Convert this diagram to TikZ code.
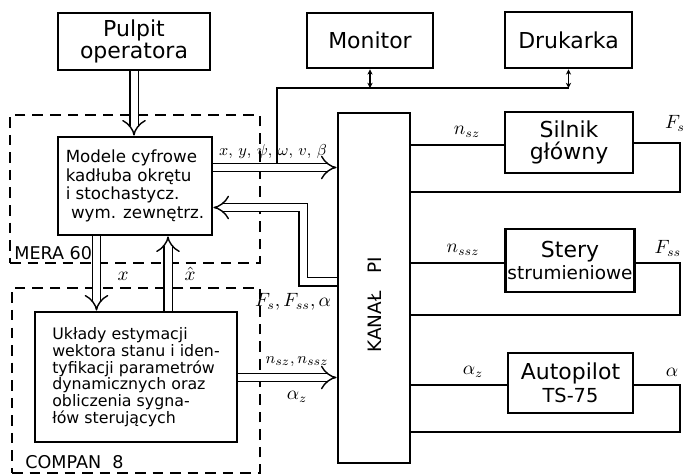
\documentclass[tikz,border=0pt]{standalone}
\usepackage{fontspec}
\setmainfont{DejaVu Sans}
\usetikzlibrary{arrows.meta, positioning}

\tikzset{
  blok/.style={draw, line width=1.6pt, align=center, inner sep=1pt, font=\fontsize{12.5}{13}\selectfont},
  pole/.style={draw, line width=0.9pt, dash pattern=on 6pt off 4pt},
  dbl/.style={double, line width=0.8pt, double distance=0.14cm, -{Implies}},
  lin/.style={line width=1pt},
  opis/.style={inner sep=1pt, font=\fontsize{10.5}{11}\selectfont},
}

\begin{document}
\begin{tikzpicture}[x=0.02cm, y=-0.02cm]
  \useasboundingbox (0,0) rectangle (687,476);
  \coordinate (bus) at (277,88);
  \coordinate (busstart) at (277,163.5);
  \coordinate (y1) at (0,167.5);
  \coordinate (y2) at (0,207.5);
  \coordinate (y3) at (0,282);
  \coordinate (y4) at (0,377.5);
  \coordinate (xr) at (303,0);
  \coordinate (xa) at (96.5,0);
  \coordinate (xb) at (168,0);
  \coordinate (xe) at (680,0);
  \coordinate (ya) at (0,145);
  \coordinate (yb) at (0,143);
  \coordinate (yc) at (0,192);
  \coordinate (yd) at (0,263);
  \coordinate (ye) at (0,315);
  \coordinate (yf) at (0,385);
  \coordinate (yg) at (0,432);
  \node[pole, minimum width=5cm, minimum height=2.96cm] (mera) at (135,189) {};
  \node[pole, minimum width=4.96cm, minimum height=3.7cm] (compan) at (136,380.5) {};
  \node[blok, minimum width=3.04cm, minimum height=1.14cm] (pulpit) at (134,41.5) {Pulpit\\operatora};
  \node[blok, minimum width=2.52cm, minimum height=1.1cm] (monitor) at (370,40.5) {Monitor};
  \node[blok, minimum width=2.54cm, minimum height=1.12cm] (drukarka) at (568.5,40) {Drukarka};
  \node[blok, minimum width=3.08cm, minimum height=1.96cm, align=left, font=\fontsize{9.5}{10.5}\selectfont] (modele) at (135,186) {Modele cyfrowe\\kadłuba okrętu\\i stochastycz.\\\ wym. zewnętrz.};
  \node[blok, minimum width=4.04cm, minimum height=2.6cm, align=left, font=\fontsize{9}{9.5}\selectfont] (uklady) at (136,377) {Układy estymacji\\wektora stanu i iden-\\tyfikacji parametrów\\dynamicznych oraz\\obliczenia sygna-\\łów sterujących};
  \node[blok, minimum width=1.44cm, minimum height=7cm] (kanal) at (374,288) {};
  \node[rotate=90, font=\fontsize{10.5}{11}\selectfont] (kanaltxt) at (375,305) {KANAŁ\ \ \ PI};
  \node[blok, minimum width=2.56cm, minimum height=1.22cm] (silnik) at (569,142.5) {Silnik\\główny};
  \node[blok, minimum width=2.52cm, minimum height=1.26cm] (stery) at (570,260.5) {Stery\\{\fontsize{10.5}{11}\selectfont strumieniowe}};
  \node[blok, minimum width=2.5cm, minimum height=1.2cm] (autopilot) at (570.5,383) {Autopilot\\{\fontsize{11}{11}\selectfont TS-75}};
  \node[opis, anchor=south west, font=\fontsize{10}{11}\selectfont] (meratxt) at ([xshift=0.06cm,yshift=0.04cm]mera.south west) {MERA 60};
  \node[opis, anchor=south west, font=\fontsize{10}{11}\selectfont] (compantxt) at ([xshift=0.24cm,yshift=0.06cm]compan.south west) {COMPAN\ \ 8};
  \draw[dbl] (pulpit.south) -- (pulpit.south |- modele.north);
  \draw[dbl] (modele.east |- y1) -- (kanal.west |- y1);
  \draw[dbl] (kanal.west |- y3) -| (xr |- y2) -- (modele.east |- y2);
  \draw[dbl] (modele.south -| xa) -- (uklady.north -| xa);
  \draw[dbl] (uklady.north -| xb) -- (modele.south -| xb);
  \draw[dbl] (uklady.east |- y4) -- (kanal.west |- y4);
  \draw[lin] (busstart) |- (drukarka.south |- bus);
  \draw[lin, {Stealth[length=3pt,width=3pt]}-{Stealth[length=3pt,width=3pt]}] (monitor.south |- bus) -- (monitor.south);
  \draw[lin, {Stealth[length=3pt,width=3pt]}-{Stealth[length=3pt,width=3pt]}] (drukarka.south |- bus) -- (drukarka.south);
  \draw[lin] (kanal.east |- ya) -- (silnik.west |- ya);
  \draw[lin] (silnik.east |- yb) -| (xe |- yc) -- (kanal.east |- yc);
  \draw[lin] (kanal.east |- yd) -- (stery.west |- yd);
  \draw[lin] (stery.east |- yd) -| (xe |- ye) -- (kanal.east |- ye);
  \draw[lin] (kanal.east |- yf) -- (autopilot.west |- yf);
  \draw[lin] (autopilot.east |- yf) -| (xe |- yg) -- (kanal.east |- yg);
  \node[opis, font=\fontsize{9.5}{10}\selectfont] (lxy) at (273,152) {$x,\, y,\, \psi,\, \omega,\, v,\, \beta$};
  \node[opis] (lfs) at (293,302) {$F_s, F_{ss}, \alpha$};
  \node[opis, font=\fontsize{9.5}{10}\selectfont] (lnz) at (297,362) {$n_{sz}, n_{ssz}$};
  \node[opis] (laz) at (297,397) {$\alpha_z$};
  \node[opis] (lx) at (123,276) {$x$};
  \node[opis] (lxh) at (190,274) {$\hat{x}$};
  \node[opis] (lnsz) at (467,132) {$n_{sz}$};
  \node[opis] (lfs2) at (675,123) {$F_s$};
  \node[opis] (lnssz) at (463,250) {$n_{ssz}$};
  \node[opis] (lfss) at (668,248) {$F_{ss}$};
  \node[opis] (laz2) at (473,372) {$\alpha_z$};
  \node[opis] (la) at (672,372) {$\alpha$};
\end{tikzpicture}
\end{document}
